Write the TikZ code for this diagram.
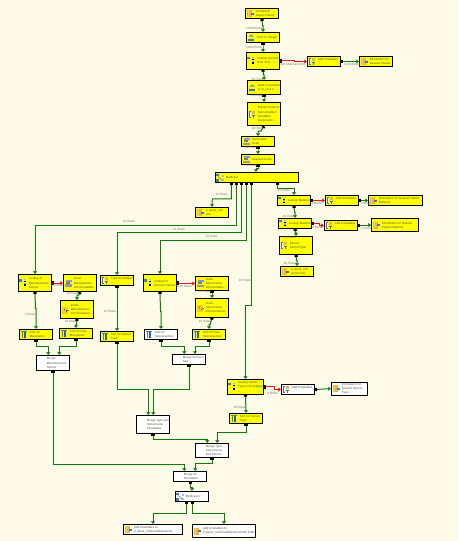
\documentclass[tikz,border=0pt]{standalone}
\usepackage{fontspec}
\setmainfont{Liberation Sans}
\usetikzlibrary{arrows.meta,calc}
\definecolor{bgc}{HTML}{FEFBE8}
\definecolor{hopg}{HTML}{0A7D0A}
\definecolor{hopr}{HTML}{F01010}
\definecolor{stepy}{HTML}{FFFF00}
\definecolor{tint}{HTML}{55554A}
\definecolor{ib}{HTML}{3E78C8}
\definecolor{ilb}{HTML}{8CC4F0}
\definecolor{io}{HTML}{EDB63A}
\tikzset{
 x=1pt,y=-1pt,
 stepbox/.style={draw=black,line width=1pt,inner sep=0pt,font=\fontsize{3.05}{4.1}\selectfont,text=tint},
 hopbase/.style={line width=1pt,rounded corners=0pt,arrows={Square[black,length=1.8,width=3.2]-Triangle[length=2.4,width=4]}},
 hop/.style={hopbase,draw=hopg},
 badhop/.style={hopbase,draw=hopr},
 hoplabel/.style={inner sep=0pt,font=\fontsize{3.1}{4}\selectfont,text=black!55}
}
% icons: origin is the middle of the left edge of the box
\newcommand{\icotin}{\fill[io] (2,-3.5) rectangle (6.5,3.5);\fill[io!60!white] (3,-3.5) rectangle (4,3.5);\fill[ib] (6,-1) rectangle (9,1);}
\newcommand{\icosort}{\fill[ib] (2.5,-3.5) rectangle (4,3.5);\fill[ib!80!black] (5,-3.5) rectangle (6.3,3.5);\fill[ib] (2,-3.5) rectangle (8,-2.6);}
\newcommand{\icolook}{\fill[ib] (1,-4) rectangle (3.5,-1.5);\fill[black] (6,-2) rectangle (7.3,-.7);\fill[ilb] (6,-.3) rectangle (7.3,1);\fill[black] (6,1.4) rectangle (7.3,2.7);\fill[ilb] (6,-4) rectangle (7.3,-2.7);}
\newcommand{\icojoin}{\fill[ib] (1.5,-3.5) rectangle (3.5,3.5);\fill[white] (2.2,-2.5) rectangle (3.2,2.5);\fill[io] (5,-3.5) rectangle (8,-.5);\fill[black!60] (5,.5) rectangle (8,1.3);\fill[ib] (5.8,1.3) rectangle (7,3.5);}
\newcommand{\icocalc}{\fill[ib] (2,1) rectangle (8,3);\fill[ilb] (3.5,-3) rectangle (6.5,-2);\draw[ib,line width=.6pt] (3,-.5) .. controls (3.5,-3) and (6.5,-3) .. (7,-.5);}
\newcommand{\icoins}{\fill[black!40] (1.5,1) rectangle (9,3.5);\fill[ib!70!white] (3,-3.5) rectangle (8.5,-1.5);\fill[black!50] (2.5,-1.2) rectangle (7,.6);}
\newcommand{\icorad}{\fill[io!70!yellow] (2,-3) rectangle (7.5,4);\fill[black!70] (3.5,-1) rectangle (4.7,.2);\fill[black!70] (5.2,.8) rectangle (6.4,2);\fill[ib] (7,.5) rectangle (9,1.5);}
\newcommand{\icomult}{\fill[ib] (.8,-4) rectangle (3.6,-1.2);\fill[ib] (.8,1.5) rectangle (3.6,4);\fill[ilb] (7,-3) rectangle (9,-1);\fill[ilb] (7,1.8) rectangle (9,3.8);\draw[black!60,line width=.5pt] (3,-1) -- (7,3);}
\newcommand{\iconone}{}
% \nbox{name}{x0}{y0}{x1}{y1}{fill}{icon}{text}
\newcommand{\nbox}[8]{%
 \pgfmathsetmacro{\cxx}{(#2+#4)/2}\pgfmathsetmacro{\cyy}{(#3+#5)/2}%
 \pgfmathsetmacro{\www}{#4-#2}\pgfmathsetmacro{\hhh}{#5-#3}\pgfmathsetmacro{\ttt}{#4-#2-10.6}%
 \node[stepbox,fill=#6,minimum width=\www pt,minimum height=\hhh pt] (#1) at (\cxx,\cyy)
  {\hspace*{10.6pt}\parbox[c]{\ttt pt}{\raggedright\hyphenpenalty=10000 #8}};%
 \begin{scope}[shift={(#2,\cyy)}]#7\end{scope}}
\newcommand{\lbl}[4]{\node[hoplabel] (#1) at (#2,#3) {#4};}
\newcommand{\jog}[3]{\draw[hop] (#1.south) -- ($(#1.south)!#3!(#2.north)$) -| (#2.north);}
\begin{document}
\begin{tikzpicture}
\useasboundingbox (0,0) rectangle (458,541);
\fill[bgc] (0,0) rectangle (458,541);
% boxes
\nbox{inp}{245.3}{8.3}{278.7}{18.7}{stepy}{\icotin}{Unwanted tweets history}
\nbox{nb}{246.3}{32.3}{279.7}{42.7}{stepy}{\icocalc}{Pick for Integer}
\nbox{nc}{246.3}{52.3}{279.7}{69.3}{stepy}{\icolook}{Lookup account id for Pick}
\nbox{ncb}{307.3}{56.3}{340.7}{66.7}{stepy}{\icojoin}{Add Kinetables ...}
\nbox{ncc}{359.3}{56.3}{392.7}{66.7}{stepy}{\icotin}{Elimination for Newest Tweets}
\nbox{nd}{247.3}{80.3}{280.7}{94.7}{stepy}{\icocalc}{Date Conversion to id\_yes1's}
\nbox{ne}{247.3}{102.3}{280.7}{125.7}{stepy}{\icojoin}{Extract Sensors Sensorzahlen Kinetable Generation ...}
\nbox{nf}{241.3}{136.3}{274.7}{146.7}{stepy}{\icoins}{Generation Code}
\nbox{ng}{241.3}{154.3}{274.7}{164.7}{stepy}{\icoins}{Insertion Code}
\nbox{mu}{215.3}{172.3}{298.7}{182.7}{stepy}{\icomult}{Multicast}
\nbox{gx}{195.3}{207.3}{228.7}{217.7}{stepy}{\icotin}{d\_tweet\_rich use}
\nbox{la}{277.3}{195.3}{310.7}{205.7}{stepy}{\icolook}{Lookup Material}
\nbox{lab}{325.3}{195.3}{358.7}{205.7}{stepy}{\icojoin}{Add Kinetables ...}
\nbox{lac}{368.3}{195.3}{422.7}{205.7}{stepy}{\icotin}{Elimination for Newest Tweets Material}
\nbox{lb}{278.3}{218.3}{311.7}{228.7}{stepy}{\icolook}{Lookup Material}
\nbox{lbb}{324.3}{220.3}{357.7}{230.7}{stepy}{\icojoin}{Add Kinetables ...}
\nbox{lbc}{371.3}{218.3}{418.7}{231.7}{stepy}{\icotin}{Elimination for Newest Tweets Material}
\nbox{dd}{279.3}{236.3}{312.7}{254.7}{stepy}{\icojoin}{Sensor Kernel/Type}
\nbox{ee}{280.3}{266.3}{313.7}{276.7}{stepy}{\icotin}{d\_tweet\_rich sensorrow ...}
\nbox{aa}{18.3}{274.3}{51.7}{291.7}{stepy}{\icolook}{Lookup of Manufacturers Sensor}
\nbox{bb}{63.3}{274.3}{96.7}{291.7}{stepy}{\icoins}{Insert Manufacturer into Kinetables}
\nbox{cc}{60.3}{300.3}{93.7}{318.7}{stepy}{\icorad}{Insert Manufacturer into Kinetsens ...}
\nbox{ff}{100.3}{275.3}{133.7}{285.7}{stepy}{\icojoin}{Type Kinetables ...}
\nbox{gg}{143.3}{274.3}{176.7}{291.7}{stepy}{\icolook}{Lookup for Sensors Sensor}
\nbox{hh}{195.3}{276.3}{228.7}{290.7}{stepy}{\icoins}{Insert Sensorsens. into Kinetabs ...}
\nbox{ii}{195.3}{298.3}{228.7}{317.3}{stepy}{\icorad}{Insert Sensorsens. into Kinetsens ...}
\nbox{sa}{19.3}{329.3}{52.7}{339.7}{stepy}{\icosort}{Sort for Manufactor}
\nbox{sb}{59.3}{328.3}{92.7}{338.7}{stepy}{\icosort}{Sort for New Manufactor}
\nbox{sc}{100.3}{331.3}{133.7}{341.7}{stepy}{\icosort}{Sort for Sensor Type ...}
\nbox{sd}{144.3}{329.3}{177.7}{339.7}{white}{\icosort}{Sort for Sensorsensor}
\nbox{se}{192.3}{329.3}{225.7}{339.7}{stepy}{\icosort}{Sort for New Sensorsensor}
\nbox{ma}{36.3}{355.3}{69.7}{370.7}{white}{\iconone}{Merge Manufacturers Sensor}
\nbox{mb}{172.3}{354.3}{205.7}{364.7}{white}{\iconone}{Merge Sensors Sen...}
\nbox{pp}{227.3}{379.3}{263.7}{394.3}{stepy}{\icolook}{Lookup Sensor Type in Kinetables ...}
\nbox{qq}{281.3}{384.3}{314.7}{394.7}{white}{\icojoin}{Add Kinetables ...}
\nbox{rr}{331.3}{382.3}{367.3}{395}{white}{\icotin}{Elimination for Newest Sensor Type}
\nbox{sf}{229.3}{413.3}{262.7}{423.7}{stepy}{\icosort}{Sort for Sensor Type ...}
\nbox{mc}{136.3}{415.3}{169.7}{433.3}{white}{\iconone}{Merge Type and Sensorsens. Kinetables}
\nbox{md}{195.3}{443.3}{228.7}{457.7}{white}{\iconone}{Merge Type Sensorsens. and Sensor ...}
\nbox{me}{173.3}{471.3}{206.7}{481.7}{white}{\iconone}{Merge all Kinetables}
\nbox{mf}{175.3}{491.3}{208.7}{501.7}{white}{\icomult}{Multicast 2}
\nbox{oa}{123.3}{524.3}{182.7}{534.7}{white}{\icotin}{Add Kinetables to d\_tweet\_richkinetablesensor}
\nbox{ob}{192.3}{524.3}{255.7}{537.7}{white}{\icotin}{Add Kinetables to d\_tweet\_richkinetablesensorwith fields}
% main line hops
\jog{inp}{nb}{.5}
\jog{nb}{nc}{.5}
\jog{nc}{nd}{.5}
\jog{nd}{ne}{.5}
\jog{ne}{nf}{.5}
\jog{nf}{ng}{.5}
\draw[hop] (ng.south) -- ++(0,3.5) -| ([xshift=-1pt]mu.north);
\draw[badhop] (nc.east) -- ++(14,0) |- (ncb.west);
\draw[hop] (ncb.east) -- ++(9,0) |- (ncc.west);
% multicast fan
\draw[hop] ([xshift=-25.7pt]mu.south) |- ++(-19,15.6) -- (gx.north);
\draw[hop] ([xshift=-20.7pt]mu.south) |- (236,225.3) -| (aa.north);
\draw[hop] ([xshift=-15.7pt]mu.south) |- (241,232.3) -| (ff.north);
\draw[hop] ([xshift=-10.7pt]mu.south) |- (246,240.3) -| (gg.north);
\draw[hop] ([xshift=-5.7pt]mu.south) -- ++(0,122.6) -| (pp.north);
\draw[hop] ([xshift=20.7pt]mu.south) -- ++(0,5) -| (la.north);
% right branch
\draw[badhop] (la.east) -- (lab.west);
\draw[hop] (lab.east) -- (lac.west);
\jog{la}{lb}{.5}
\draw[badhop] (lb.east) -- ++(7,0) |- (lbb.west);
\draw[hop] (lbb.east) -- ++(12,0) |- (lbc.west);
\jog{lb}{dd}{.5}
\jog{dd}{ee}{.5}
% manufacturer branch
\draw[badhop] (aa.east) -- (bb.west);
\jog{aa}{sa}{.45}
\jog{bb}{cc}{.4}
\jog{cc}{sb}{.6}
\draw[hop] (sa.south) |- ([xshift=-4.7pt,yshift=8pt]ma.north) -- ([xshift=-4.7pt]ma.north);
\draw[hop] (sb.south) |- ([xshift=6.3pt,yshift=8pt]ma.north) -- ([xshift=6.3pt]ma.north);
% type branch
\draw[hop] (ff.south) -- (sc.north);
% sensor branch
\draw[badhop] (gg.east) -- ++(10,0) |- (hh.west);
\jog{gg}{sd}{.53}
\draw[hop] (hh.south) -- (ii.north);
\jog{ii}{se}{.6}
\draw[hop] (sd.south) |- ([xshift=-4.7pt,yshift=7pt]mb.north) -- ([xshift=-4.7pt]mb.north);
\draw[hop] (se.south) |- ([xshift=6pt,yshift=7pt]mb.north) -- ([xshift=6pt]mb.north);
% sensor type
\draw[badhop] (pp.east) -- ++(10.3,0) |- (qq.west);
\draw[hop] (qq.east) -- (rr.west);
\draw[hop] (pp.south) -- (sf.north);
% merges
\draw[hop] (sc.south) |- ([xshift=-4.7pt,yshift=25pt]mc.north) -- ([xshift=-4.7pt]mc.north);
\draw[hop] (mb.south) |- ([xshift=.3pt,yshift=25pt]mc.north) -- ([xshift=.3pt]mc.north);
\draw[hop] (mc.south) |- ([xshift=-4.7pt,yshift=3.6pt]md.north) -- ([xshift=-4.7pt]md.north);
\draw[hop] (sf.south) |- ([xshift=5.3pt,yshift=10pt]md.north) -- ([xshift=5.3pt]md.north);
\draw[hop] (ma.south) |- ([xshift=-5.7pt,yshift=6pt]me.north) -- ([xshift=-5.7pt]me.north);
\draw[hop] (md.south) |- ([xshift=5.3pt,yshift=7pt]me.north) -- ([xshift=5.3pt]me.north);
\draw[hop] ([xshift=.3pt]me.south) -- ++(0,5.6) -| (mf.north);
\draw[hop] ([xshift=-5.7pt]mf.south) |- ([yshift=10.6pt]oa.north) -- (oa.north);
\draw[hop] ([xshift=.3pt]mf.south) |- ([yshift=10.6pt]ob.north) -- (ob.north);
% labels
\lbl{t1}{254}{29}{1,000 Rows}
\lbl{t2}{254}{47.7}{1,000 Rows}
\lbl{t3}{293}{65}{Not Matched (0,0)}
\lbl{t4}{352}{65}{1,000 Rows}
\lbl{t5}{257.3}{79}{10 Rows}
\lbl{t6}{257.3}{95}{10 Rows}
\lbl{t7}{257.3}{128}{10 Rows}
\lbl{t8}{251.3}{147}{10 Rows}
\lbl{t9}{251.3}{165}{10 Rows}
\lbl{t10}{221.7}{194.7}{10 Rows}
\lbl{t11}{284}{190.7}{10 Rows}
\lbl{t12}{317.3}{203.7}{0 Buffer}
\lbl{t13}{366}{203.7}{1 Rows}
\lbl{t14}{289}{216}{10 Rows}
\lbl{t15}{318}{227.7}{0 Buffer}
\lbl{t16}{366.3}{228.7}{1 Rows}
\lbl{t17}{289}{237}{10 Rows}
\lbl{t18}{290}{263.7}{10 Rows}
\lbl{t19}{129}{221.7}{10 Rows}
\lbl{t20}{179}{229}{10 Rows}
\lbl{t21}{211.7}{236.7}{10 Rows}
\lbl{t22}{245}{280.7}{10 Rows}
\lbl{t23}{30.3}{314}{1 Rows}
\lbl{t24}{57.7}{285.7}{0,0 Rows}
\lbl{t25}{73}{293}{10 Rows}
\lbl{t26}{71}{321}{10 Rows}
\lbl{t27}{110}{311.7}{10 Rows}
\lbl{t28}{184}{286.7}{Not 0 Rows}
\lbl{t29}{205}{291.7}{10 Rows}
\lbl{t30}{205}{321}{10 Rows}
\lbl{t31}{239.3}{407.7}{10 Rows}
\lbl{t32}{272.7}{393}{0 Buffer}
\end{tikzpicture}
\end{document}
